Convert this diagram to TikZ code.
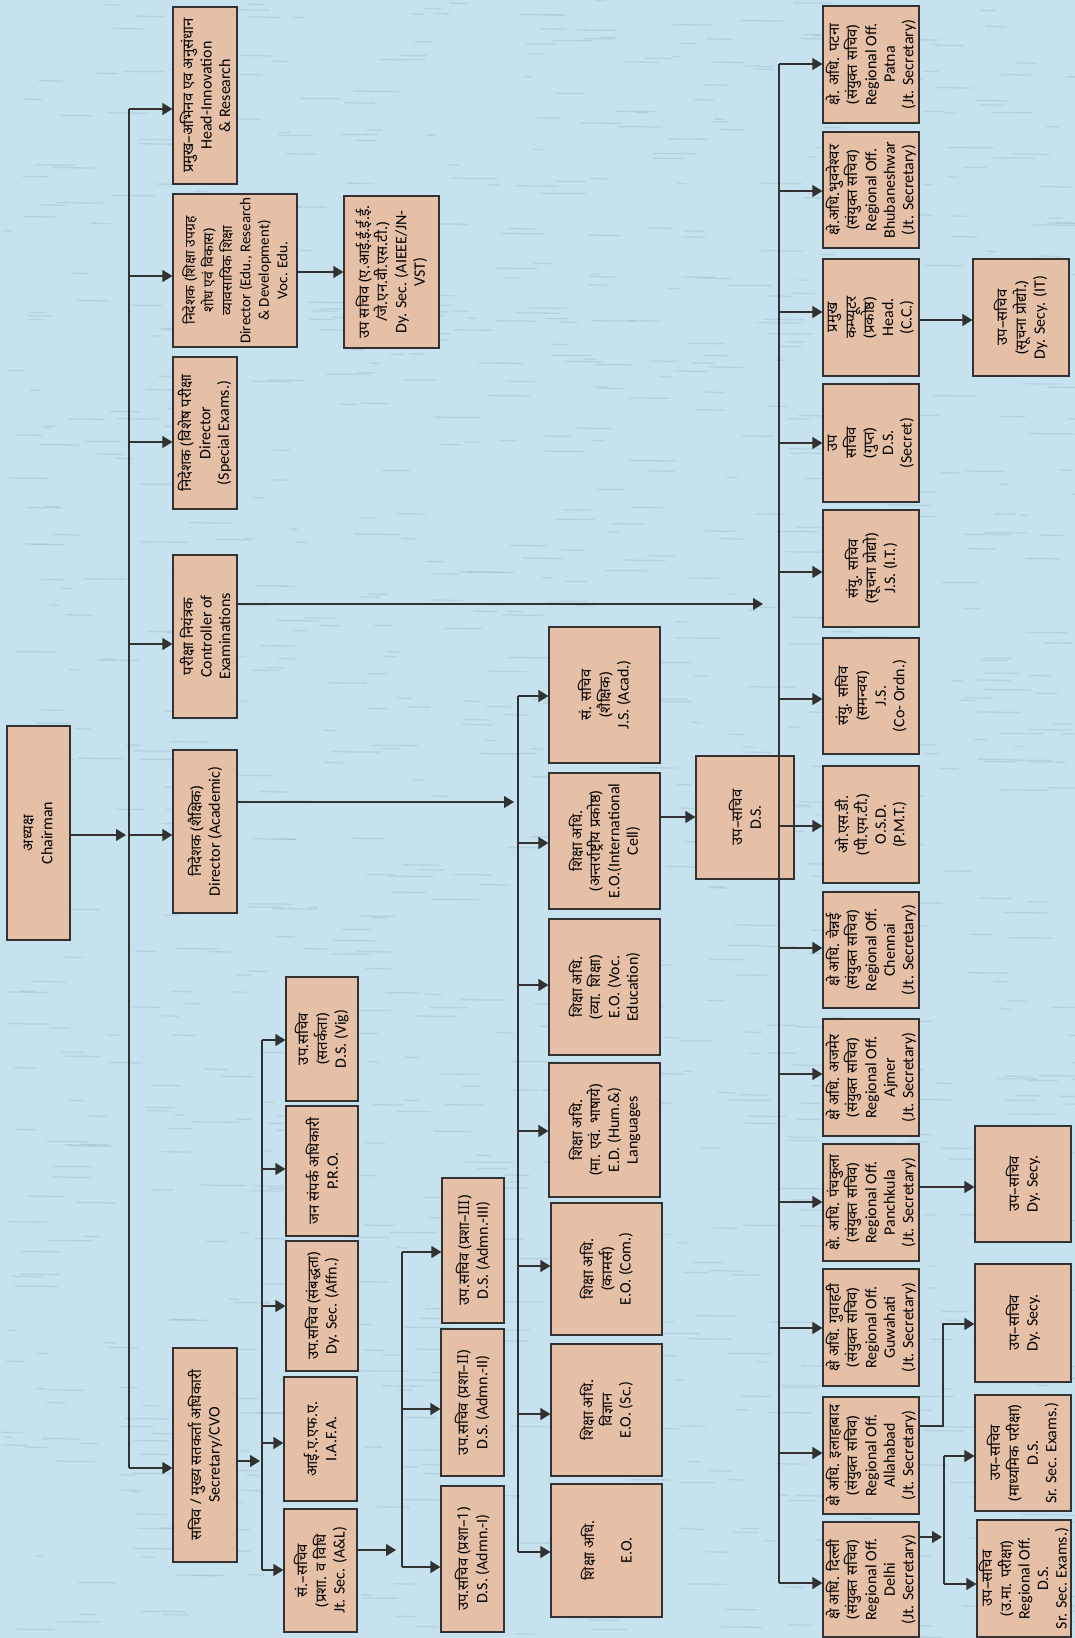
\documentclass[tikz,border=0pt]{standalone}
\usepackage{fontspec}
\setmainfont{Carlito}
\newfontfamily\hin[Script=Devanagari,Scale=0.93]{Noto Sans}
\usetikzlibrary{arrows.meta,calc}
\definecolor{bg}{RGB}{198,226,239}
\definecolor{streak}{RGB}{140,165,180}
\definecolor{boxc}{RGB}{229,191,166}
\definecolor{edge}{RGB}{50,50,50}
\newcommand\hn[1]{{\hin #1}}
\newcommand\mkbox[7][]{%
  \pgfmathsetmacro\mycx{(#3+#5)/2}\pgfmathsetmacro\mycy{(#4+#6)/2}%
  \pgfmathsetmacro\myww{#5-#3}\pgfmathsetmacro\myhh{#6-#4}%
  \node[box, minimum width=\myhh pt, minimum height=\myww pt, #1] (#2) at (\mycx,\mycy) {#7};}
\tikzset{
  box/.style={draw=edge, fill=boxc, line width=1.2pt, rotate=90, align=center,
    inner sep=1pt, font=\fontsize{16}{18.5}\selectfont},
  sm/.style={font=\fontsize{15}{18.5}\selectfont},
  ln/.style={draw=edge, line width=1.2pt},
  arr/.style={ln, -{Triangle[length=10pt,width=12pt]}},
}
\lineskiplimit=-30pt
\begin{document}
\begin{tikzpicture}[x=1pt,y=-1pt]
\useasboundingbox (0,0) rectangle (1075,1638);
\fill[bg] (0,0) rectangle (1075,1638);
\begin{scope}
\clip (0,0) rectangle (1075,1638);
\pgfmathsetseed{11}
\foreach \i in {1,...,1100} {
  \pgfmathsetmacro\sx{rnd*1075}\pgfmathsetmacro\sy{rnd*1638}\pgfmathsetmacro\sl{8+rnd*40}
  \draw[streak, opacity=0.28, line width=1.3pt] (\sx,\sy) -- ++(\sl,0.4);
}
\end{scope}
% left column
\mkbox{chair}{7}{726}{70}{940}{\hn{अध्यक्ष}\\Chairman}
\mkbox{head}{173}{7}{237}{184}{\hn{प्रमुख–अभिनव एव अनुसंधान}\\Head-Innovation\\\& Research}
\mkbox[sm]{dirrd}{173}{194}{297}{347}{\hn{निदेशक (शिक्षा उपग्रह}\\\hn{शोध एवं विकास)}\\\hn{व्यावसायिक शिक्षा}\\Director (Edu., Research\\\& Development)\\Voc. Edu.}
\mkbox{dysec}{344}{196}{439}{348}{\hn{उप सचिव (ए.आई.ई.ई.ई.}\\\hn{/जे.एन.वी.एस.टी.)}\\Dy. Sec. (AIEEE/JN-\\VST)}
\mkbox{dirse}{173}{357}{237}{509}{\hn{निदेशक (विशेष परीक्षा}\\Director\\(Special Exams.)}
\mkbox{coe}{173}{555}{237}{718}{\hn{परीक्षा नियंत्रक}\\Controller of\\Examinations}
\mkbox{dira}{173}{750}{237}{913}{\hn{निदेशक (शैक्षिक)}\\Director (Academic)}
\mkbox{secy}{173}{1348}{237}{1562}{\hn{सचिव / मुख्य सतकर्ता अधिकारी}\\Secretary/CVO}
% secretary subordinates
\mkbox{vig}{286}{977}{358}{1101}{\hn{उप.सचिव}\\\hn{(सतर्कता)}\\D.S. (Vig)}
\mkbox{pro}{286}{1106}{358}{1236}{\hn{जन संपर्क अधिकारी}\\P.R.O.}
\mkbox{affn}{286}{1241}{358}{1371}{\hn{उप.सचिव (संबद्धता)}\\Dy. Sec. (Affn.)}
\mkbox{iafa}{284}{1377}{357}{1501}{\hn{आई.ए.एफ.ए.}\\I.A.F.A.}
\mkbox{jtsec}{284}{1509}{357}{1632}{\hn{सं.–सचिव}\\\hn{(प्रशा. व विधि}\\Jt. Sec. (A\&L)}
\mkbox{adm3}{442}{1178}{504}{1323}{\hn{उप.सचिव (प्रशा–III)}\\D.S. (Admn.-III)}
\mkbox{adm2}{441}{1329}{504}{1476}{\hn{उप.सचिव (प्रशा–II)}\\D.S. (Admn.-II)}
\mkbox{adm1}{441}{1486}{504}{1632}{\hn{उप.सचिव (प्रशा–1)}\\D.S. (Admn.-I)}
% academic column
\mkbox{jsac}{549}{627}{660}{763}{\hn{सं. सचिव}\\\hn{(शैक्षिक)}\\J.S. (Acad.)}
\mkbox{eoic}{549}{773}{660}{909}{\hn{शिक्षा अधि.}\\\hn{(अन्तर्राष्ट्रीय प्रकोष्ठ)}\\E.O.(International\\Cell)}
\mkbox{dsm}{696}{756}{794}{879}{\hn{उप–सचिव}\\D.S.}
\mkbox{eov}{549}{919}{660}{1055}{\hn{शिक्षा अधि.}\\\hn{(व्या. शिक्षा)}\\E.O. (Voc.\\Education)}
\mkbox{eoh}{549}{1063}{660}{1197}{\hn{शिक्षा अधि.}\\\hn{(मा. एवं. भाषाये)}\\E.D. (Hum.\&)\\Languages}
\mkbox{eoc}{551}{1203}{662}{1335}{\hn{शिक्षा अधि.}\\\hn{(कामर्स)}\\E.O. (Com.)}
\mkbox{eos}{551}{1344}{662}{1476}{\hn{शिक्षा अधि.}\\\hn{विज्ञान}\\E.O. (Sc.)}
\mkbox{eo}{551}{1484}{662}{1617}{\hn{शिक्षा अधि.}\\[18.5pt]E.O.}
% right column
\mkbox{patna}{823}{6}{919}{123}{\hn{क्षे. अधि. पटना}\\\hn{(संयुक्त सचिव)}\\Regional Off.\\Patna\\(Jt. Secretary)}
\mkbox{bbsr}{823}{132}{919}{248}{\hn{क्षे.अधि.भुवनेश्वर}\\\hn{(संयुक्त सचिव)}\\Regional Off.\\Bhubaneshwar\\(Jt. Secretary)}
\mkbox{hcc}{823}{259}{919}{376}{\hn{प्रमुख}\\\hn{कम्प्यूटर}\\\hn{(प्रकोष्ठ)}\\Head.\\(C.C.)}
\mkbox{dsit}{973}{259}{1069}{376}{\hn{उप–सचिव}\\\hn{(सूचना प्रोद्यो.)}\\Dy. Secy. (IT)}
\mkbox{dssec}{823}{384}{919}{502}{\hn{उप}\\\hn{सचिव}\\\hn{(गुप्त)}\\D.S.\\(Secret)}
\mkbox{jsit}{823}{510}{919}{627}{\hn{संयु. सचिव}\\\hn{(सूचना प्रोद्यो)}\\J.S. (I.T.)}
\mkbox{jsco}{823}{638}{919}{754}{\hn{संयु. सचिव}\\\hn{(समन्वय)}\\J.S.\\(Co- Ordn.)}
\mkbox{osd}{823}{766}{919}{883}{\hn{ओ.एस.डी.}\\\hn{(पी.एम.टी.)}\\O.S.D.\\(P.M.T.)}
\mkbox{chen}{823}{892}{919}{1008}{\hn{क्षे अधि. चेन्नई}\\\hn{(संयुक्त सचिव)}\\Regional Off.\\Chennai\\(Jt. Secretary)}
\mkbox{ajm}{823}{1019}{919}{1136}{\hn{क्षे अधि. अजमेर}\\\hn{(संयुक्त सचिव)}\\Regional Off.\\Ajmer\\(Jt. Secretary)}
\mkbox{pkl}{823}{1144}{919}{1261}{\hn{क्षे. अधि. पंचकुला}\\\hn{(संयुक्त सचिव)}\\Regional Off.\\Panchkula\\(Jt. Secretary)}
\mkbox{dyp}{975}{1126}{1071}{1242}{\hn{उप–सचिव}\\Dy. Secy.}
\mkbox{guw}{823}{1269}{919}{1386}{\hn{क्षे अधि. गुवाहटी}\\\hn{(संयुक्त सचिव)}\\Regional Off.\\Guwahati\\(Jt. Secretary)}
\mkbox{dya}{975}{1264}{1071}{1382}{\hn{उप–सचिव}\\Dy. Secy.}
\mkbox{alld}{823}{1397}{919}{1514}{\hn{क्षे अधि. इलाहाबाद}\\\hn{(संयुक्त सचिव)}\\Regional Off.\\Allahabad\\(Jt. Secretary)}
\mkbox{dssr}{975}{1395}{1071}{1511}{\hn{उप–सचिव}\\\hn{(माध्यमिक परीक्षा)}\\D.S.\\Sr. Sec. Exams.)}
\mkbox{del}{823}{1522}{919}{1637}{\hn{क्षे अधि. दिल्ली}\\\hn{(संयुक्त सचिव)}\\Regional Off.\\Delhi\\(Jt. Secretary)}
\mkbox{dsreg}{977}{1520}{1071}{1637}{\hn{उप–सचिव}\\\hn{(उ.मा. परीक्षा)}\\Regional Off.\\D.S.\\Sr. Sec. Exams.)}
% spines
\coordinate (s1t) at (129,109); \coordinate (s1b) at (129,1468);
\coordinate (s2t) at (518,696); \coordinate (s2b) at (518,1552);
\coordinate (s3t) at (262,1040); \coordinate (s3b) at (262,1570);
\coordinate (s4t) at (402,1252); \coordinate (s4b) at (402,1567);
\coordinate (s5t) at (779,64); \coordinate (s5b) at (779,1583);
\coordinate (s6t) at (944,1456); \coordinate (s6b) at (944,1584);
\coordinate (coeend) at (763,604);
\coordinate (ak) at (943,1324);
\foreach \a/\b in {s1t/s1b,s2t/s2b,s3t/s3b,s4t/s4b,s5t/s5b,s6t/s6b} \draw[ln] (\a) -- (\b);
% chairman
\draw[arr, shorten >=3pt] (chair.south |- 0,835) -- (s1t |- 0,835);
\foreach \n/\y in {head/109,dirrd/276,dirse/442,coe/644,dira/835,secy/1468}
  \draw[arr] (s1t |- 0,\y) -- (\n.north |- 0,\y);
\draw[arr] (dirrd.south |- 0,272) -- (dysec.north |- 0,272);
\draw[arr] (coe.south |- coeend) -- (coeend);
% academic
\draw[arr, shorten >=4pt] (dira.south |- 0,802) -- (s2t |- 0,802);
\foreach \n/\y in {jsac/696,eoic/843,eov/985,eoh/1131,eoc/1266,eos/1414,eo/1552}
  \draw[arr] (s2t |- 0,\y) -- (\n.north |- 0,\y);
\draw[arr] (eoic.south |- 0,817) -- (dsm.north |- 0,817);
% secretary
\draw[arr, shorten >=2pt] (secy.south |- 0,1461) -- (s3t |- 0,1461);
\foreach \n/\y in {vig/1040,pro/1169,affn/1306,iafa/1443,jtsec/1570}
  \draw[arr] (s3t |- 0,\y) -- (\n.north |- 0,\y);
\draw[arr, shorten >=6pt] (jtsec.south |- 0,1550) -- (s4t |- 0,1550);
\foreach \n/\y in {adm3/1252,adm2/1409,adm1/1567}
  \draw[arr] (s4t |- 0,\y) -- (\n.north |- 0,\y);
% right column
\foreach \n/\y in {patna/64,bbsr/191,hcc/312,dssec/443,jsit/572,jsco/699,osd/826,chen/948,ajm/1074,pkl/1202,guw/1328,alld/1453,del/1583}
  \draw[arr] (s5t |- 0,\y) -- (\n.north |- 0,\y);
\draw[arr] (hcc.south |- 0,320) -- (dsit.north |- 0,320);
\draw[arr] (pkl.south |- 0,1187) -- (dyp.north |- 0,1187);
\draw[arr] (alld.south |- 0,1426) -| (ak) -- (dya.north |- ak);
\draw[arr, shorten >=2pt] (del.south |- 0,1537) -- (s6t |- 0,1537);
\draw[arr] (s6t) -- (dssr.north |- s6t);
\draw[arr] (s6b) -- (dsreg.north |- s6b);
\end{tikzpicture}
\end{document}
